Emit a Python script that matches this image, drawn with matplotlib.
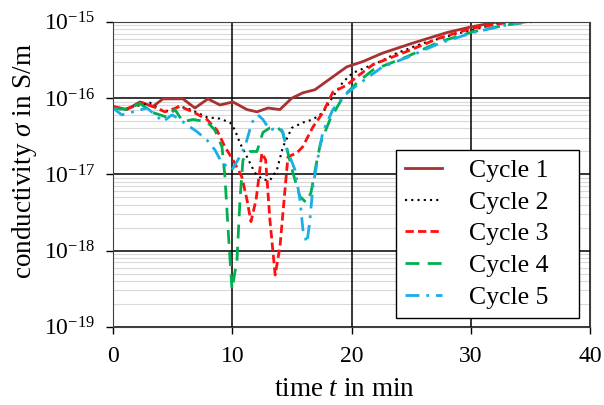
import matplotlib.pyplot as plt
import matplotlib.ticker as mticker
import numpy as np

plt.rcParams['font.family'] = ['Liberation Serif', 'DejaVu Serif']
plt.rcParams['mathtext.fontset'] = 'custom'
plt.rcParams['mathtext.rm'] = 'Liberation Serif'
plt.rcParams['mathtext.it'] = 'Liberation Serif:italic'

# time in min, log10 of conductivity in S/m
t1 = [0, 1.17, 2.26, 3.35, 4.19, 5.87, 6.87, 7.96, 8.97, 10.06, 11.23, 12.07, 12.99, 14.0,
      15.0, 15.93, 16.93, 18.44, 19.6, 20.96, 22.6, 25.1, 28.0, 29.9, 31.9, 33.5]
s1 = [-16.11, -16.15, -16.05, -16.11, -16.01, -16.01, -16.13, -16.01, -16.09, -16.05, -16.15, -16.18,
      -16.13, -16.15, -16.0, -15.93, -15.89, -15.72, -15.59, -15.52, -15.41, -15.28, -15.14, -15.07,
      -15.01, -14.97]

t2 = [0, 0.84, 3.1, 3.94, 4.95, 5.45, 6.2, 7.04, 7.88, 8.97, 9.81, 10.23, 10.65, 11.23, 11.9,
      12.57, 13.16, 13.75, 14.25, 15.0, 15.93, 16.76, 17.6, 18.44, 19.28, 20.1, 22.4, 23.8, 26.0,
      28.5, 31.0, 33.5]
s2 = [-16.13, -16.15, -16.06, -16.15, -16.18, -16.11, -16.13, -16.19, -16.25, -16.27, -16.32, -16.42,
      -16.59, -16.77, -16.98, -17.07, -17.08, -16.94, -16.64, -16.39, -16.32, -16.28, -16.19, -15.98,
      -15.79, -15.67, -15.52, -15.41, -15.28, -15.17, -15.07, -14.98]

t3 = [0, 1.0, 2.43, 3.35, 4.36, 5.62, 6.7, 7.88, 8.72, 9.39, 10.06, 10.8, 11.23, 11.57, 12.0,
      12.49, 12.8, 13.16, 13.6, 14.0, 14.4, 14.67, 15.4, 15.9, 16.76, 17.6, 18.44, 19.6, 20.45,
      21.8, 24.6, 27.4, 30.2, 33.0, 34.5]
s3 = [-16.11, -16.15, -16.06, -16.11, -16.18, -16.11, -16.18, -16.28, -16.42, -16.64, -16.81, -17.03,
      -17.33, -17.62, -17.33, -16.72, -16.81, -17.6, -18.32, -17.95, -17.24, -16.77, -16.72, -16.64,
      -16.38, -16.19, -15.92, -15.83, -15.72, -15.56, -15.39, -15.21, -15.08, -15.01, -14.98]

t4 = [0, 1.17, 2.26, 3.35, 4.53, 5.2, 5.87, 6.7, 7.88, 8.55, 9.14, 9.39, 9.64, 9.98, 10.4,
      10.65, 10.9, 11.5, 12.07, 12.57, 13.16, 13.83, 14.25, 14.67, 15.09, 15.67, 16.2, 16.6, 17.0,
      17.4, 18.2, 19.3, 20.45, 21.8, 24.6, 27.4, 30.2, 33.0, 35.0, 36.0]
s4 = [-16.13, -16.15, -16.07, -16.19, -16.25, -16.15, -16.31, -16.28, -16.31, -16.42, -16.64, -17.03,
      -17.69, -18.51, -18.12, -17.33, -16.81, -16.7, -16.7, -16.45, -16.39, -16.39, -16.45, -16.72,
      -16.98, -17.29, -17.37, -17.24, -16.9, -16.59, -16.28, -15.98, -15.8, -15.63, -15.46, -15.26,
      -15.13, -15.04, -15.0, -14.98]

t5 = [0, 0.75, 1.68, 2.85, 3.77, 4.19, 4.95, 5.62, 6.2, 7.04, 7.88, 8.55, 9.14, 9.98, 10.48,
      11.06, 11.65, 12.15, 12.57, 13.16, 13.75, 14.17, 14.6, 15.26, 15.67, 15.93, 16.26, 16.5, 16.76,
      17.2, 17.6, 18.44, 19.45, 20.3, 22.6, 24.6, 27.4, 30.2, 33.0, 35.8]
s5 = [-16.13, -16.22, -16.18, -16.13, -16.25, -16.31, -16.22, -16.28, -16.35, -16.44, -16.55, -16.68,
      -16.85, -16.94, -16.81, -16.64, -16.32, -16.22, -16.28, -16.42, -16.39, -16.42, -16.68, -16.94,
      -17.33, -17.73, -17.9, -17.62, -17.16, -16.77, -16.44, -16.15, -15.96, -15.85, -15.59, -15.47,
      -15.28, -15.14, -15.04, -14.97]

labels = ['Cycle 1', 'Cycle 2', 'Cycle 3', 'Cycle 4', 'Cycle 5']
x_ticks = [0, 10, 20, 30, 40]
y_ticks = [1e-19, 1e-18, 1e-17, 1e-16, 1e-15]

fig = plt.figure(figsize=(6.04, 4.05), dpi=100)
ax = fig.add_axes([0.187, 0.193, 0.79, 0.753])

ax.plot(t1, 10.0 ** np.array(s1), color='#A83232', lw=2.0, label=labels[0])
ax.plot(t2, 10.0 ** np.array(s2), color='black', lw=1.5, ls=(0, (1, 2)), label=labels[1])
ax.plot(t3, 10.0 ** np.array(s3), color='#FF1010', lw=2.0, ls=(0, (3, 1.5)), label=labels[2])
ax.plot(t4, 10.0 ** np.array(s4), color='#00B050', lw=2.0, ls=(0, (5, 3)), label=labels[3])
ax.plot(t5, 10.0 ** np.array(s5), color='#1AAEE8', lw=2.0, ls=(0, (5, 2.5, 1, 2.5)), label=labels[4])

ax.set_yscale('log')
ax.set_xlim(0, 40)
ax.set_ylim(1e-19, 1e-15)
ax.set_xticks(x_ticks)
ax.set_yticks(y_ticks)
ax.yaxis.set_minor_locator(mticker.LogLocator(base=10, subs=np.arange(2, 10)))
ax.yaxis.set_minor_formatter(mticker.NullFormatter())

ax.grid(True, which='minor', axis='y', color='#d9d9d9', lw=0.8, ls='-')
ax.grid(True, which='major', color='black', lw=1.1, ls='-')
ax.set_axisbelow(True)
# keep vertical grid lines above the light minor lines
ax.xaxis.set_zorder(0.6)
ax.tick_params(which='minor', length=0)
ax.tick_params(which='major', direction='out', length=5, width=1, labelsize=17)
ax.tick_params(axis='x', pad=9)
ax.tick_params(axis='y', pad=8)
for sp in ax.spines.values():
    sp.set_color('#404040')

ax.set_xlabel('time $t$ in min', fontsize=19.5, va='center')
ax.xaxis.set_label_coords(0.485, -0.205)
ax.set_ylabel(r'conductivity $\sigma$ in S/m', fontsize=19.5, va='center')
ax.yaxis.set_label_coords(-0.185, 0.543)

leg = ax.legend(loc='lower left', bbox_to_anchor=(0.593, 0.03, 0.384, 0.5), mode='expand',
                borderaxespad=0, fontsize=18.5, fancybox=False, edgecolor='black', framealpha=1,
                handlelength=1.45, labelspacing=0.34, borderpad=0.35, handletextpad=1.05)
leg.get_frame().set_linewidth(1.0)

fig.savefig('out.png', dpi=100)
